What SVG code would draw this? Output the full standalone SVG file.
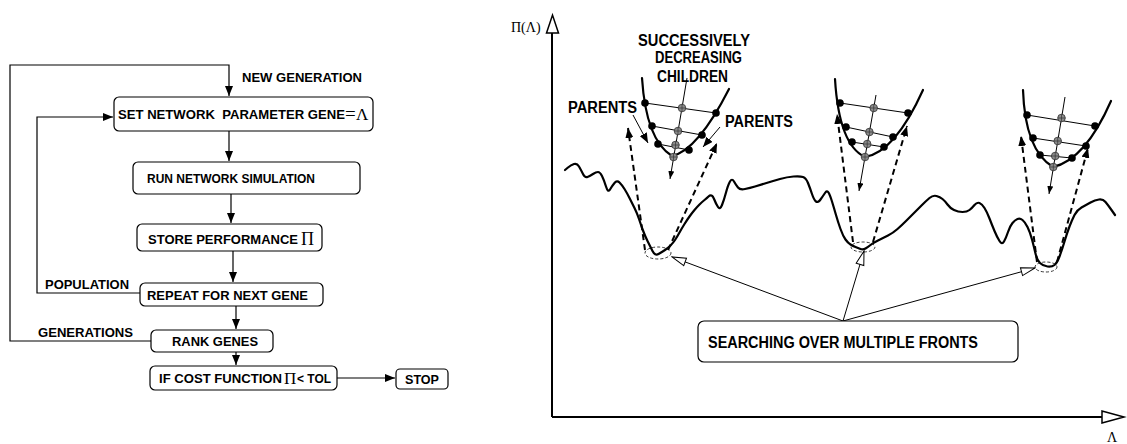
<svg xmlns="http://www.w3.org/2000/svg" width="1127" height="444" viewBox="0 0 1127 444">
<style>
.box{fill:#fff;stroke:#000;stroke-width:1.2}
.t{font-family:"Liberation Sans",Arial,sans-serif;font-weight:bold;font-size:12.5px;fill:#000}
.tb{font-family:"Liberation Sans",Arial,sans-serif;font-weight:bold;font-size:16px;fill:#000}
.s{font-family:"Liberation Serif","Times New Roman",serif;fill:#000}
.ln{fill:none;stroke:#000;stroke-width:1.2}
.thin{fill:none;stroke:#000;stroke-width:1}
.thick{fill:none;stroke:#000;stroke-width:2.2;stroke-linejoin:round;stroke-linecap:round}
.dash{fill:none;stroke:#000;stroke-width:2;stroke-dasharray:6 4}
.dell{fill:none;stroke:#222;stroke-width:0.9;stroke-dasharray:3 2}
</style>
<defs>
<marker id="ah" markerUnits="userSpaceOnUse" markerWidth="10" markerHeight="8" refX="10" refY="4" orient="auto"><path d="M0,0 L10,4 L0,8 z" fill="#000"/></marker>
<marker id="ahs" markerUnits="userSpaceOnUse" markerWidth="8" markerHeight="6" refX="8" refY="3" orient="auto"><path d="M0,0 L8,3 L0,6 z" fill="#000"/></marker>
<marker id="ahh" markerUnits="userSpaceOnUse" markerWidth="16" markerHeight="10" refX="15" refY="5" orient="auto"><path d="M1,1 L15,5 L1,9 z" fill="#fff" stroke="#000" stroke-width="1"/></marker>
<g id="bd"><circle r="3.8" fill="#000"/></g>
<g id="gd"><circle r="3.8" fill="#8c8c8c" stroke="#333" stroke-width="0.8"/><path d="M-3.8,0 H3.8 M0,-3.8 V3.8" stroke="#333" stroke-width="0.7"/></g>
</defs>

<!-- connectors -->
<g id="connectors">
<polyline class="ln" points="151,341 10,341 10,65 229,65 229,96" marker-end="url(#ah)"/>
<polyline class="ln" points="140,293 37,293 37,117 113,117" marker-end="url(#ah)"/>
<line class="ln" x1="229" y1="131" x2="229" y2="161" marker-end="url(#ah)"/>
<line class="ln" x1="231" y1="194" x2="231" y2="223" marker-end="url(#ah)"/>
<line class="ln" x1="233" y1="251" x2="233" y2="282" marker-end="url(#ah)"/>
<line class="ln" x1="236" y1="306" x2="236" y2="329" marker-end="url(#ah)"/>
<line class="ln" x1="236" y1="352" x2="236" y2="365" marker-end="url(#ah)"/>
<line class="ln" x1="337" y1="378" x2="395" y2="378" marker-end="url(#ah)"/>
<line class="thin" x1="843" y1="321" x2="672" y2="257" marker-end="url(#ahh)"/>
<line class="thin" x1="843" y1="321" x2="864" y2="251" marker-end="url(#ahh)"/>
<line class="thin" x1="843" y1="321" x2="1035" y2="268" marker-end="url(#ahh)"/>
</g>

<!-- flowchart nodes -->
<text class="t" x="242" y="82" textLength="120" lengthAdjust="spacingAndGlyphs">NEW GENERATION</text>
<g id="n-set"><rect class="box" x="114" y="97" width="259" height="34" rx="5"/>
<text class="t" x="118" y="119" textLength="227" lengthAdjust="spacingAndGlyphs" xml:space="preserve">SET NETWORK  PARAMETER GENE</text>
<text class="s" x="345" y="120" font-size="19">=</text><text class="s" x="356" y="120" font-size="17">Λ</text></g>
<g id="n-run"><rect class="box" x="133" y="162" width="227" height="32" rx="5"/>
<text class="t" x="147" y="183" textLength="168" lengthAdjust="spacingAndGlyphs">RUN NETWORK SIMULATION</text></g>
<g id="n-store"><rect class="box" x="137" y="224" width="185" height="27" rx="5"/>
<text class="t" x="148" y="244" textLength="150" lengthAdjust="spacingAndGlyphs">STORE PERFORMANCE</text>
<text class="s" x="301" y="245" font-size="18">Π</text></g>
<g id="n-repeat"><rect class="box" x="140" y="283" width="183" height="23" rx="5"/>
<text class="t" x="147" y="300" textLength="161" lengthAdjust="spacingAndGlyphs">REPEAT FOR NEXT GENE</text></g>
<text class="t" x="45" y="289" textLength="84" lengthAdjust="spacingAndGlyphs">POPULATION</text>
<text class="t" x="38" y="337" textLength="95" lengthAdjust="spacingAndGlyphs">GENERATIONS</text>
<g id="n-rank"><rect class="box" x="151" y="330" width="122" height="22" rx="5"/>
<text class="t" x="172" y="346" textLength="86" lengthAdjust="spacingAndGlyphs">RANK GENES</text></g>
<g id="n-cost"><rect class="box" x="150" y="366" width="187" height="24" rx="5"/>
<text class="t" x="159" y="383" textLength="123" lengthAdjust="spacingAndGlyphs">IF COST FUNCTION</text>
<text class="s" x="284" y="384" font-size="17">Π</text>
<text class="t" x="297" y="383" textLength="34" lengthAdjust="spacingAndGlyphs">&lt; TOL</text></g>
<g id="n-stop"><rect class="box" x="396" y="369" width="52" height="20" rx="4"/>
<text class="t" x="405" y="384" textLength="34" lengthAdjust="spacingAndGlyphs">STOP</text></g>

<!-- axes -->
<g id="axes">
<line x1="552" y1="33" x2="552" y2="417" stroke="#000" stroke-width="2"/>
<polygon points="546.5,33 558.5,33 552.5,15" fill="#fff" stroke="#000" stroke-width="1.5"/>
<line x1="552" y1="417" x2="1102" y2="417" stroke="#000" stroke-width="2"/>
<polygon points="1102,411 1102,423 1124,417" fill="#fff" stroke="#000" stroke-width="1.5"/>
<text class="s" x="511" y="32" font-size="14">Π(Λ)</text>
<text class="s" x="1107" y="442" font-size="14">Λ</text>
</g>

<!-- landscape -->
<path id="landscape" class="thick" d="M565,170 L568,167.5 Q571,165 574,164 Q577,163 579,166.5 Q581,170 583,174 Q585,178 587.5,177 Q590,176 593,174 Q596,172 598,172 Q600,172 602,176 Q604,180 606,186.5 Q608,193 610,189.5 Q612,186 614.5,183 Q617,180 619.5,182.5 Q622,185 624.5,189 Q627,193 629.5,198 Q632,203 634.5,208 Q637,213 639,219 Q641,225 643,230.5 Q645,236 647.5,241 Q650,246 652.5,251 Q655,256 658.5,254 Q662,252 665,250 Q668,248 670.5,245.5 Q673,243 675,240 Q677,237 679.5,232.5 Q682,228 684.5,224 Q687,220 689.5,216.5 Q692,213 694.5,210 Q697,207 699.5,204.5 Q702,202 704.5,200 Q707,198 708.5,196.5 Q710,195 711.5,195.5 Q713,196 714.5,200 Q716,204 718,207 Q720,210 722,205 Q724,200 726,192.5 Q728,185 730,181.5 Q732,178 734,181.5 Q736,185 738,187.5 Q740,190 745,189 Q750,188 755,186.5 Q760,185 766.5,183 Q773,181 780,179 Q787,177 793.5,176.5 Q800,176 803,177 Q806,178 808,183 Q810,188 812,194 Q814,200 816,201.5 Q818,203 820.5,199.5 Q823,196 825,193 Q827,190 828.5,192.5 Q830,195 832,201.5 Q834,208 836,215 Q838,222 840.5,229 Q843,236 845.5,239.5 Q848,243 850.5,244.5 Q853,246 855.5,247 Q858,248 860.5,249 Q863,250 865.5,248.5 Q868,247 870.5,245 Q873,243 878,240.5 Q883,238 888,235.5 Q893,233 897.5,229 Q902,225 906,221 Q910,217 914,213 Q918,209 922,205 Q926,201 929.5,198 Q933,195 936.5,196 Q940,197 942.5,199 Q945,201 947.5,204.5 Q950,208 954,210 Q958,212 962.5,212 Q967,212 969.5,210 Q972,208 974.5,205 Q977,202 979.5,203 Q982,204 984.5,208 Q987,212 989.5,218.5 Q992,225 994.5,231 Q997,237 999.5,241 Q1002,245 1004,241.5 Q1006,238 1008,232 Q1010,226 1012.5,223 Q1015,220 1017.5,219 Q1020,218 1022.5,220 Q1025,222 1027.5,227 Q1030,232 1032,239.5 Q1034,247 1035.5,253.5 Q1037,260 1040,263 Q1043,266 1047.5,266.5 Q1052,267 1054.5,265 Q1057,263 1059.5,256.5 Q1062,250 1064.5,241.5 Q1067,233 1069.5,226.5 Q1072,220 1074.5,215 Q1077,210 1081.5,207.5 Q1086,205 1090.5,202.5 Q1095,200 1099,199.5 Q1103,199 1105.5,202 Q1108,205 1111.5,210 L1115,215"/>

<!-- dashed ellipses at minima -->
<ellipse class="dell" cx="658" cy="253" rx="13" ry="6"/>
<ellipse class="dell" cx="863" cy="247" rx="12" ry="5"/>
<ellipse class="dell" cx="1046" cy="267" rx="11" ry="5"/>

<!-- front 1 -->
<g id="front1">
<line class="dash" x1="645" y1="250" x2="628" y2="128" marker-end="url(#ah)"/>
<line class="dash" x1="668" y1="250" x2="717" y2="143" marker-end="url(#ah)"/>
<line class="thin" x1="645" y1="103" x2="716" y2="113"/>
<line class="thin" x1="652" y1="126" x2="702" y2="135"/>
<line class="thin" x1="658" y1="144" x2="689" y2="150"/>
<line class="thin" x1="687" y1="78" x2="670" y2="179" marker-end="url(#ahs)"/>
<path class="thick" d="M642,78 Q646,140 672,156 Q698,150 729,89"/>
<use href="#bd" x="645" y="103"/><use href="#bd" x="652" y="126"/><use href="#bd" x="658" y="144"/>
<use href="#bd" x="716" y="113"/><use href="#bd" x="702" y="135"/><use href="#bd" x="689" y="150"/>
<use href="#gd" x="682" y="108"/><use href="#gd" x="678" y="131"/><use href="#gd" x="675.5" y="145"/><use href="#gd" x="673.5" y="157"/>
<line class="thin" x1="633" y1="115" x2="648" y2="143" marker-end="url(#ah)"/>
<line class="thin" x1="720" y1="127" x2="703" y2="147" marker-end="url(#ah)"/>
<text class="tb" x="568" y="113" textLength="69" lengthAdjust="spacingAndGlyphs">PARENTS</text>
<text class="tb" x="725" y="127" textLength="68" lengthAdjust="spacingAndGlyphs">PARENTS</text>
<text class="tb" x="638" y="46" textLength="112" lengthAdjust="spacingAndGlyphs">SUCCESSIVELY</text>
<text class="tb" x="655" y="63" textLength="87" lengthAdjust="spacingAndGlyphs">DECREASING</text>
<text class="tb" x="657" y="82" textLength="71" lengthAdjust="spacingAndGlyphs">CHILDREN</text>
</g>

<!-- front 2 -->
<g id="front2">
<line class="dash" x1="853" y1="242" x2="837" y2="114" marker-end="url(#ah)"/>
<line class="dash" x1="873" y1="242" x2="907" y2="126" marker-end="url(#ah)"/>
<line class="thin" x1="840" y1="103" x2="908" y2="113"/>
<line class="thin" x1="846" y1="127" x2="893" y2="137"/>
<line class="thin" x1="852" y1="142" x2="884" y2="147"/>
<line class="thin" x1="876" y1="95" x2="859" y2="191" marker-end="url(#ahs)"/>
<path class="thick" d="M835,79 Q839,145 865,157 Q895,152 923,90"/>
<use href="#bd" x="840" y="103"/><use href="#bd" x="846" y="127"/><use href="#bd" x="852" y="142"/>
<use href="#bd" x="908" y="113"/><use href="#bd" x="893" y="137"/><use href="#bd" x="884" y="147"/>
<use href="#gd" x="873.7" y="108"/><use href="#gd" x="869.4" y="132"/><use href="#gd" x="867.2" y="144"/><use href="#gd" x="865" y="157"/>
</g>

<!-- front 3 -->
<g id="front3">
<line class="dash" x1="1037" y1="262" x2="1021" y2="136" marker-end="url(#ah)"/>
<line class="dash" x1="1057" y1="262" x2="1088" y2="148" marker-end="url(#ah)"/>
<line class="thin" x1="1027" y1="115" x2="1095" y2="126"/>
<line class="thin" x1="1033" y1="138" x2="1086" y2="146"/>
<line class="thin" x1="1040" y1="155" x2="1072" y2="158"/>
<line class="thin" x1="1065" y1="97" x2="1049" y2="194" marker-end="url(#ahs)"/>
<path class="thick" d="M1023,90 Q1025,150 1053,167 Q1085,160 1111,101"/>
<use href="#bd" x="1027" y="115"/><use href="#bd" x="1033" y="138"/><use href="#bd" x="1040" y="155"/>
<use href="#bd" x="1095" y="126"/><use href="#bd" x="1086" y="146"/><use href="#bd" x="1072" y="158"/>
<use href="#gd" x="1061.5" y="118"/><use href="#gd" x="1057.7" y="141"/><use href="#gd" x="1055.2" y="156"/><use href="#gd" x="1053.3" y="167"/>
</g>

<!-- search box -->
<g id="n-search"><rect class="box" x="698" y="321" width="320" height="41" rx="6" stroke-width="1.4"/>
<text class="tb" x="708" y="348" textLength="270" lengthAdjust="spacingAndGlyphs">SEARCHING OVER MULTIPLE FRONTS</text></g>
</svg>
